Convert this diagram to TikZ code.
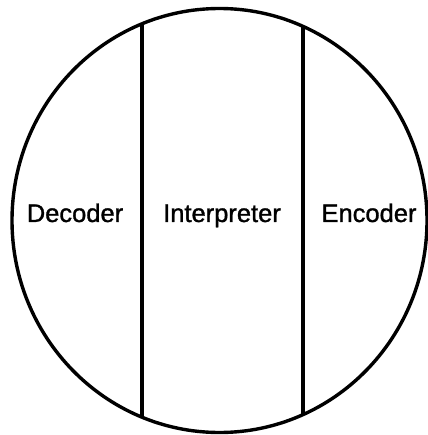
\documentclass[tikz,border=0pt]{standalone}
\usepackage{fontspec}
\setmainfont{Liberation Sans}
\newfontfamily\labelfont[FakeBold=1.2]{Liberation Sans}
\begin{document}
\begin{tikzpicture}[x=1pt,y=-1pt,
  outline/.style={line width=3.4pt},
  divider/.style={line width=3.8pt},
  label/.style={font=\labelfont\fontsize{25.5}{28}\selectfont, inner sep=0pt, anchor=base}]
\useasboundingbox (0,0) rectangle (427,435);
\fill[white] (0,0) rectangle (427,435);
\begin{scope}
  \clip (219.5,220.5) ellipse [x radius=207.5, y radius=212];
  \draw[divider] (142,0) -- (142,435);
  \draw[divider] (303,0) -- (303,435);
\end{scope}
\draw[outline] (219.5,220.5) ellipse [x radius=207.5, y radius=212];
\node[label] (dec) at (75,222) {Decoder};
\node[label] (int) at (222,222) {Interpreter};
\node[label] (enc) at (369,222) {Encoder};
\end{tikzpicture}
\end{document}
